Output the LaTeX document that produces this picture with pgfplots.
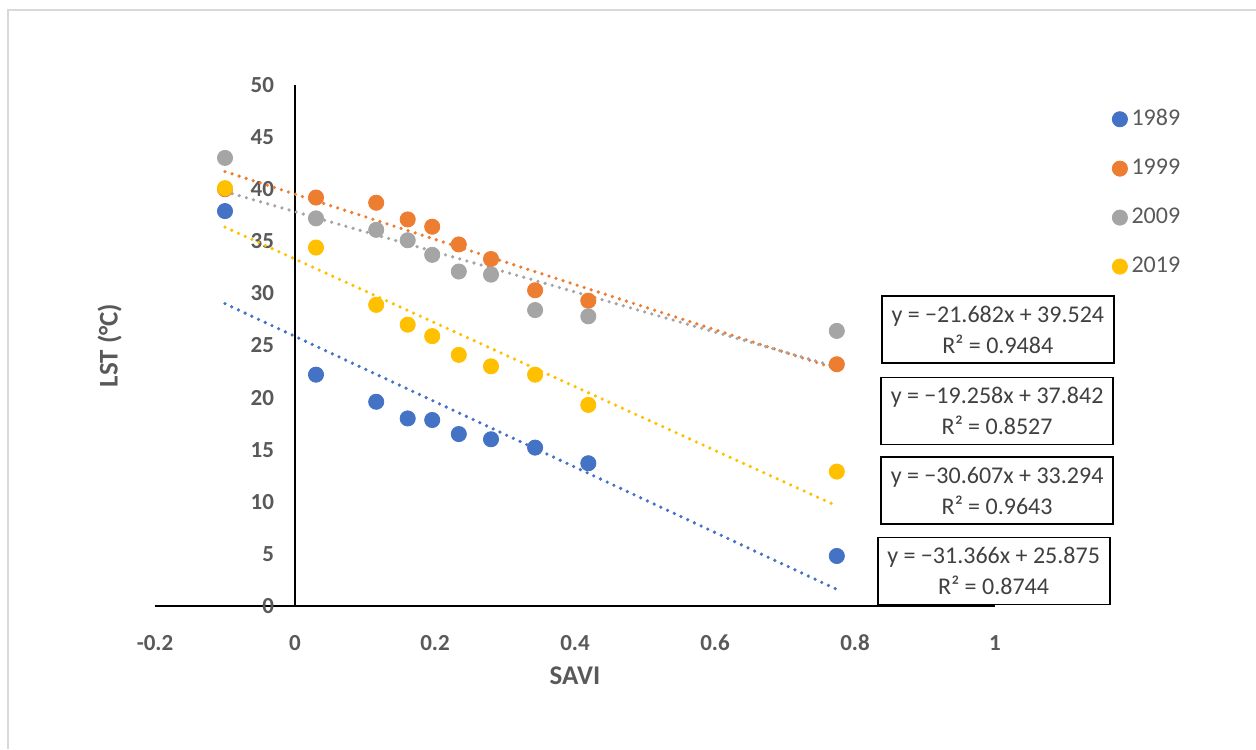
\documentclass[border=0pt]{standalone}
\usepackage{pgfplots}
\pgfplotsset{compat=1.18}
\usepackage{fontspec}
\setmainfont{Carlito}

\definecolor{c89}{HTML}{4472C4}
\definecolor{c99}{HTML}{ED7D31}
\definecolor{c09}{HTML}{A5A5A5}
\definecolor{c19}{HTML}{FFC000}
\definecolor{txt}{HTML}{595959}

\begin{document}
\begin{tikzpicture}
% page frame (1 px = 0.5 pt), axis lower-left at pixel (155,606)
\path[use as bounding box] (-77.5pt,-71.5pt) rectangle (550.5pt,303pt);
\draw[line width=1pt, draw=black!15] (-73.5pt,-71.5pt) -- (-73.5pt,298pt) -- (550.5pt,298pt);

\begin{axis}[
  at={(0,0)}, anchor=south west,
  scale only axis,
  width=420pt, height=260.5pt,
  xmin=-0.2, xmax=1,
  ymin=0, ymax=50,
  axis lines=middle,
  axis line style={line width=1pt, black, -},
  hide obscured x ticks=false,
  hide obscured y ticks=false,
  xtick={-0.2,0,0.2,0.4,0.6,0.8,1},
  ytick={0,5,...,50},
  xticklabels={-0.2,0,0.2,0.4,0.6,0.8,1},
  major tick length=0pt,
  tick label style={font=\fontsize{11.5}{13}\selectfont\bfseries, text=txt},
  xticklabel style={anchor=north, yshift=-11pt},
  yticklabel style={anchor=east, xshift=-7pt},
  /pgf/number format/assume math mode=true,
  xlabel={SAVI}, ylabel={LST (°C)},
  every axis x label/.style={at={(rel axis cs:0.5,-0.134)}, anchor=center},
  every axis y label/.style={at={(rel axis cs:-0.054,0.5)}, anchor=center, rotate=90},
  label style={font=\fontsize{13.5}{15}\selectfont\bfseries, text=txt},
  clip=false,
  legend style={at={(1.132,0.969)}, anchor=north west, draw=none, fill=none,
    font=\fontsize{12}{14}\selectfont, text=txt, row sep=11.2pt,
    /tikz/every even column/.append style={column sep=3pt}},
  legend cell align=left,
  every axis plot/.append style={only marks, mark=*, mark size=3.8pt},
]

% trendlines (endpoints from Excel linear fits)
\addplot[forget plot, no marks, sharp plot, c89, line width=1.8pt, line cap=round, dash pattern=on 0pt off 3.7pt] coordinates {(-0.1,29.012) (0.774,1.598)};
\addplot[forget plot, no marks, sharp plot, c99, line width=1.8pt, line cap=round, dash pattern=on 0pt off 3.7pt] coordinates {(-0.1,41.692) (0.774,22.742)};
\addplot[forget plot, no marks, sharp plot, c09, line width=1.8pt, line cap=round, dash pattern=on 0pt off 3.7pt] coordinates {(-0.1,39.768) (0.774,22.936)};
\addplot[forget plot, no marks, sharp plot, c19, line width=1.8pt, line cap=round, dash pattern=on 0pt off 3.7pt] coordinates {(-0.1,36.355) (0.774,9.604)};

\addplot[c89, mark options={draw=c89, fill=c89}] coordinates {
  (-0.1,37.9) (0.03,22.2) (0.116,19.6) (0.161,18.0) (0.196,17.85)
  (0.234,16.5) (0.28,16.0) (0.343,15.2) (0.419,13.7) (0.774,4.8)};
\addlegendentry{1989}
\addplot[c99, mark options={draw=c99, fill=c99}] coordinates {
  (-0.1,40.0) (0.03,39.2) (0.116,38.7) (0.161,37.1) (0.196,36.4)
  (0.234,34.7) (0.28,33.3) (0.343,30.3) (0.419,29.3) (0.774,23.2)};
\addlegendentry{1999}
\addplot[c09, mark options={draw=c09, fill=c09}] coordinates {
  (-0.1,43.0) (0.03,37.2) (0.116,36.1) (0.161,35.1) (0.196,33.7)
  (0.234,32.1) (0.28,31.8) (0.343,28.4) (0.419,27.8) (0.774,26.4)};
\addlegendentry{2009}
\addplot[c19, mark options={draw=c19, fill=c19}] coordinates {
  (-0.1,40.1) (0.03,34.4) (0.116,28.9) (0.161,27.0) (0.196,25.9)
  (0.234,24.1) (0.28,23.0) (0.343,22.2) (0.419,19.3) (0.774,12.9)};
\addlegendentry{2019}

\begin{scope}[every node/.style={draw=black, line width=0.9pt, fill=white,
    minimum width=116pt, minimum height=33.5pt, align=center, text=black!75,
    font=\fontsize{12}{15.5}\selectfont, inner sep=2pt}]
\node at (axis cs:1.004,26.54) {y = −21.682x + 39.524\\R² = 0.9484};
\node at (axis cs:1.003,18.71) {y = −19.258x + 37.842\\R² = 0.8527};
\node at (axis cs:1.003,11.08) {y = −30.607x + 33.294\\R² = 0.9643};
\node at (axis cs:0.998,3.36) {y = −31.366x + 25.875\\R² = 0.8744};
\end{scope}
\end{axis}
\end{tikzpicture}
\end{document}
